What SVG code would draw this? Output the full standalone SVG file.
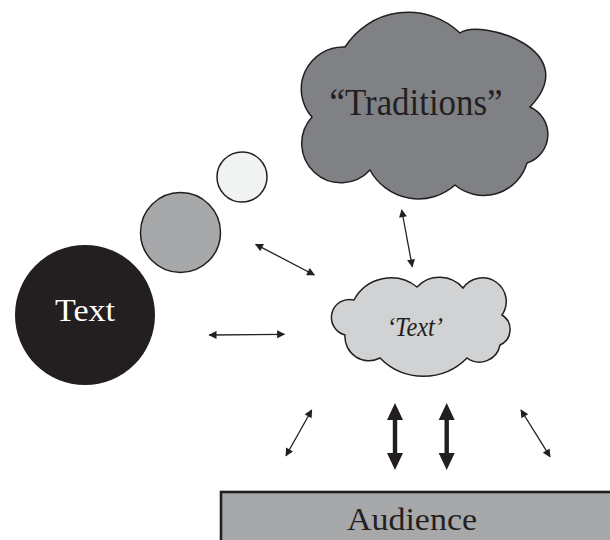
<svg xmlns="http://www.w3.org/2000/svg" width="610" height="540" viewBox="0 0 610 540">
<defs>
<style>
.ol{stroke:#231f20;stroke-width:1.5}
.lbl{font-family:"Liberation Serif","DejaVu Serif",serif;text-anchor:middle}
.con{stroke:#231f20;stroke-width:1.3;fill:none;marker-start:url(#ah);marker-end:url(#ah)}
.thick{fill:#231f20}
</style>
<marker id="ah" viewBox="0 0 10 10" refX="9" refY="5" markerWidth="9" markerHeight="8" markerUnits="userSpaceOnUse" orient="auto-start-reverse">
<path d="M0,0 L10,5 L0,10 Z" fill="#231f20"/>
</marker>
</defs>
<rect width="610" height="540" fill="#ffffff"/>

<g id="traditions">
<path class="ol" fill="#808184" d="M312,117 A42,42 0 0 1 345,47 A75,75 0 0 1 460,33 C480,18 585,50 530,107 A30,30 0 0 1 527,163 A45,45 0 0 1 455,185 A55,55 0 0 1 370,170 A39,39 0 0 1 312,117 Z"/>
<text class="lbl" x="416" y="115" font-size="37" fill="#231f20" textLength="173" lengthAdjust="spacingAndGlyphs">“Traditions”</text>
</g>

<g id="circle-small">
<circle class="ol" cx="242" cy="177" r="25" fill="#f1f2f2"/>
</g>
<g id="circle-medium">
<circle class="ol" cx="180.5" cy="232.5" r="40" fill="#a7a8aa"/>
</g>
<g id="text-circle">
<circle cx="85" cy="315" r="70" fill="#231f20"/>
<text class="lbl" x="85" y="321" font-size="31" fill="#ffffff" textLength="60" lengthAdjust="spacingAndGlyphs">Text</text>
</g>

<g id="text-cloud">
<path class="ol" fill="#d1d2d4" d="M345,335 A18,18 0 0 1 354,300 A42,42 0 0 1 417,287 A31,31 0 0 1 463,288 A23,23 0 0 1 502,315 A17,17 0 0 1 500,345 A21,21 0 0 1 467,358 A61,61 0 0 1 380,358 A24,24 0 0 1 345,335 Z"/>
<text class="lbl" x="415" y="336" font-size="27" font-style="italic" fill="#231f20" textLength="56" lengthAdjust="spacingAndGlyphs">‘Text’</text>
</g>

<g id="audience">
<rect x="221" y="492" width="400" height="60" fill="#a7a8aa" stroke="#231f20" stroke-width="2.6"/>
<text class="lbl" x="412" y="530" font-size="31" fill="#231f20" textLength="130" lengthAdjust="spacingAndGlyphs">Audience</text>
</g>

<g id="connectors">
<line class="con" x1="401.7" y1="210" x2="412.3" y2="266.7"/>
<line class="con" x1="255.7" y1="244.3" x2="314.3" y2="275"/>
<line class="con" x1="209.3" y1="335" x2="284.3" y2="334.3"/>
<line class="con" x1="311.7" y1="410" x2="286" y2="455.7"/>
<line class="con" x1="521" y1="410" x2="550" y2="456.7"/>
<polygon class="thick" points="395,403 403,420 397.2,420 397.2,453 403,453 395,470 387,453 392.8,453 392.8,420 387,420"/>
<polygon class="thick" points="446.7,403 454.7,420 448.9,420 448.9,453 454.7,453 446.7,470 438.7,453 444.5,453 444.5,420 438.7,420"/>
</g>
</svg>
